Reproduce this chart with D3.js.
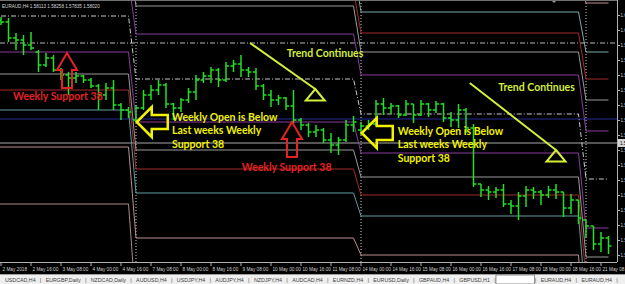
<!DOCTYPE html>
<html>
<head>
<meta charset="utf-8">
<script src="https://cdn.jsdelivr.net/npm/d3@7"></script>
<style>
  html, body { margin: 0; padding: 0; background: #000; overflow: hidden; }
  svg { display: block; }
</style>
</head>
<body>
<svg id="chart" width="625" height="284"></svg>
<script>
// EURAUD H4 bars from 2 May 2018 00:00, one value per 4h bar
const barOpen = [1.6040,1.6036,1.6004,1.6000,1.5990,1.5976,1.5950,1.5964,1.5940,1.5930,1.5924,1.5928,1.5920,1.5908,1.5890,1.5904,1.5870,1.5860,
  1.5840,1.5864,1.5890,1.5900,1.5910,1.5872,1.5864,1.5880,1.5896,1.5920,1.5928,1.5940,1.5920,1.5948,1.5952,1.5940,1.5936,1.5908,1.5890,1.5880,1.5884,1.5868,1.5840,1.5830,1.5816,1.5820,1.5800,1.5790,1.5800,1.5830,
  1.5820,1.5828,1.5832,1.5872,1.5864,1.5868,1.5850,1.5872,1.5850,1.5872,1.5860,1.5872,1.5844,1.5840,1.5860,1.5824,1.5712,1.5700,1.5696,1.5700,1.5672,1.5668,1.5688,1.5700,1.5696,1.5690,1.5700,1.5696,1.5664,1.5680,
  1.5640,1.5628,1.5592,1.5604];
const barHigh = [1.6046,1.6044,1.6014,1.6010,1.6016,1.5980,1.5974,1.5970,1.5944,1.5936,1.5936,1.5930,1.5924,1.5912,1.5914,1.5920,1.5874,1.5866,
  1.5870,1.5900,1.5910,1.5920,1.5914,1.5874,1.5884,1.5904,1.5930,1.5936,1.5946,1.5944,1.5956,1.5960,1.5970,1.5946,1.5944,1.5912,1.5900,1.5890,1.5886,1.5900,1.5844,1.5834,1.5830,1.5824,1.5814,1.5806,1.5840,1.5848,
  1.5836,1.5840,1.5880,1.5884,1.5874,1.5870,1.5880,1.5872,1.5880,1.5874,1.5878,1.5874,1.5856,1.5872,1.5864,1.5832,1.5712,1.5708,1.5706,1.5712,1.5680,1.5696,1.5708,1.5706,1.5700,1.5708,1.5712,1.5696,1.5692,1.5680,
  1.5640,1.5628,1.5616,1.5608];
const barLow = [1.6030,1.5996,1.5980,1.5970,1.5980,1.5936,1.5946,1.5936,1.5920,1.5890,1.5914,1.5914,1.5904,1.5860,1.5880,1.5860,1.5840,1.5844,
  1.5836,1.5860,1.5880,1.5890,1.5864,1.5840,1.5856,1.5874,1.5880,1.5914,1.5914,1.5906,1.5916,1.5936,1.5926,1.5926,1.5900,1.5880,1.5866,1.5870,1.5860,1.5834,1.5820,1.5806,1.5806,1.5794,1.5774,1.5770,1.5796,1.5816,
  1.5810,1.5820,1.5828,1.5850,1.5852,1.5844,1.5848,1.5834,1.5848,1.5846,1.5854,1.5836,1.5826,1.5824,1.5814,1.5706,1.5686,1.5680,1.5684,1.5666,1.5652,1.5640,1.5666,1.5682,1.5670,1.5684,1.5682,1.5646,1.5652,1.5632,
  1.5604,1.5580,1.5576,1.5572];
const barClose = [1.6036,1.6004,1.6000,1.5990,1.5984,1.5950,1.5964,1.5940,1.5930,1.5924,1.5928,1.5920,1.5908,1.5890,1.5904,1.5870,1.5860,1.5856,
  1.5864,1.5890,1.5900,1.5910,1.5872,1.5864,1.5880,1.5896,1.5920,1.5928,1.5940,1.5920,1.5948,1.5952,1.5940,1.5936,1.5908,1.5890,1.5880,1.5884,1.5868,1.5840,1.5830,1.5816,1.5820,1.5800,1.5790,1.5800,1.5830,1.5836,
  1.5828,1.5832,1.5872,1.5864,1.5868,1.5850,1.5872,1.5850,1.5872,1.5860,1.5872,1.5844,1.5840,1.5860,1.5824,1.5712,1.5700,1.5696,1.5700,1.5672,1.5668,1.5688,1.5700,1.5696,1.5690,1.5700,1.5696,1.5664,1.5680,1.5644,
  1.5628,1.5592,1.5604,1.5588];

// time axis, one label every 4 bars
const timeLabels = ["2 May 2018","2 May 16:00","3 May 08:00","4 May 00:00","4 May 16:00","7 May 08:00","8 May 00:00",
  "8 May 16:00","9 May 08:00","10 May 00:00","10 May 16:00","11 May 08:00","14 May 00:00","14 May 16:00","15 May 08:00",
  "16 May 00:00","16 May 16:00","17 May 08:00","18 May 00:00","18 May 16:00","21 May 08:00"];
const priceTicks = [1.6050,1.6020,1.5990,1.5960,1.5930,1.5900,1.5870,1.5840,1.5810,1.5780,1.5750,1.5720,1.5690,1.5660,1.5630,1.5600,1.5570];

// weekly fibo pivot levels (weeks of 30 Apr, 7 May, 14 May, 21 May)
const weekStart = [-12, 18, 48, 78];
const weekEnd = [17, 47, 77, 81];
const pivotP = [1.6048, 1.5922, 1.5852, 1.5722];
const r38 = [1.6120, 1.6012, 1.5930, 1.5818];
const s38 = [1.5976, 1.5836, 1.5774, 1.5624];
const r61 = [1.6164, 1.6068, 1.5976, 1.5880];
const s61 = [1.5932, 1.5780, 1.5726, 1.5566];
const r78 = [1.6196, 1.6100, 1.6014, 1.5922];
const s78 = [1.5900, 1.5742, 1.5690, 1.5524];
const r100 = [1.6236, 1.6148, 1.6056, 1.5976];
const s100 = [1.5860, 1.5694, 1.5648, 1.5470];
const r138 = [1.6308, 1.6234, 1.6134, 1.6074];
const s138 = [1.5786, 1.5604, 1.5570, 1.5372];
const s200 = [1.5672, 1.5470, 1.5444, 1.5218];

// levels across the whole chart
const monthlyOpen = 1.5994;
const monthlyLevel = 1.5842;
const hLinePrice = 1.5794;

// drawn objects: [bar index, price]
const upArrows = [[8.8, 1.5974], [38.8, 1.5836]];
const leftArrows = [[18.1, 1.5836], [48.1, 1.5814]];
const supportTexts = [[1.6, 1.5880], [32.1, 1.5738]];
const openTexts = [[22.8, 1.5838], [52.9, 1.5810]];
const trendLines = [[[33.2, 1.5994], [41.9, 1.5902]], [[62.5, 1.5914], [74.0, 1.5780]]];
const trendTexts = [[38.1, 1.5966], [66.3, 1.5898]];

const tabs = ["USDCAD,H4","EURGBP,Daily","NZDCAD,Daily","AUDUSD,H4","USDJPY,H4","AUDJPY,H4","NZDJPY,H4",
  "AUDCAD,H4","EURNZD,H4","EURUSD,Daily","GBPAUD,H4","GBPUSD,H1","EURAUD,H4","EURAUD,H4","EURAUD,H4"];
const activeTab = 12;

const svg = d3.select('#chart');
const plot = { right: 617, bottom: 262 };

const x = d3.scaleLinear().domain([0, 82]).range([1, 616]);
const y = d3.scaleLinear().domain([1.5556, 1.6080]).range([plot.bottom, 0]);

svg.append('rect').attr('width', 625).attr('height', 284).attr('fill', '#000');

svg.append('defs').append('clipPath').attr('id', 'clip')
  .append('rect').attr('width', plot.right).attr('height', plot.bottom);

const g = svg.append('g').attr('clip-path', 'url(#clip)');

// week separators
g.selectAll('.sep')
  .data(weekStart.slice(1))
  .enter().append('line')
  .attr('x1', d => x(d)).attr('x2', d => x(d))
  .attr('y1', 0).attr('y2', plot.bottom)
  .attr('stroke', '#cfcfcf').attr('stroke-width', 1)
  .attr('stroke-dasharray', '1,2');

// full width levels
const fullLines = [
  { v: monthlyOpen, color: '#b8b8b8', dash: '5,2,1,2' },
  { v: monthlyLevel, color: '#2a2a9c', dash: null },
  { v: hLinePrice, color: '#a8a8a8', dash: null }
];
g.selectAll('.full')
  .data(fullLines)
  .enter().append('line')
  .attr('x1', 0).attr('x2', plot.right)
  .attr('y1', d => y(d.v)).attr('y2', d => y(d.v))
  .attr('stroke', d => d.color).attr('stroke-width', 1)
  .attr('stroke-dasharray', d => d.dash);

// weekly levels, joined at each new week
const levelSeries = [
  { vals: r138, color: '#bc8f8f' }, { vals: s138, color: '#bc8f8f' },
  { vals: s200, color: '#a88888' },
  { vals: r100, color: '#7fa9aa' }, { vals: s100, color: '#5f9ea0' },
  { vals: r78, color: '#a52a2a' }, { vals: s78, color: '#a52a2a' },
  { vals: r61, color: '#9a9a9a' }, { vals: s61, color: '#9a9a9a' },
  { vals: r38, color: '#8a3d9e' }, { vals: s38, color: '#8a3d9e' },
  { vals: pivotP, color: '#c8c8c8', dash: '5,2,1,2' }
];

const levelLine = d3.line().x(d => x(d[0])).y(d => y(d[1]));

g.selectAll('.level')
  .data(levelSeries)
  .enter().append('path')
  .attr('d', s => levelLine(s.vals.flatMap((v, k) => [[weekStart[k], v], [weekEnd[k], v]])))
  .attr('fill', 'none')
  .attr('stroke', s => s.color)
  .attr('stroke-width', 1)
  .attr('stroke-dasharray', s => s.dash || null);

// OHLC bars
const bars = g.selectAll('.bar')
  .data(barOpen.map((o, i) => ({ i, o, h: barHigh[i], l: barLow[i], c: barClose[i] })))
  .enter().append('g')
  .attr('stroke', '#22e022')
  .attr('stroke-width', 1.5);

bars.append('line')
  .attr('x1', d => x(d.i)).attr('x2', d => x(d.i))
  .attr('y1', d => y(d.h)).attr('y2', d => y(d.l));
bars.append('line')
  .attr('x1', d => x(d.i) - 3).attr('x2', d => x(d.i))
  .attr('y1', d => y(d.o)).attr('y2', d => y(d.o));
bars.append('line')
  .attr('x1', d => x(d.i)).attr('x2', d => x(d.i) + 3)
  .attr('y1', d => y(d.c)).attr('y2', d => y(d.c));

// annotations
const red = '#e52222', yellow = '#f2f200', lime = '#d4ee3a';
const labelFont = 'Lato, "Open Sans", sans-serif';

g.selectAll('.uparrow')
  .data(upArrows)
  .enter().append('path')
  .attr('d', d => {
    const tx = x(d[0]), ty = y(d[1]);
    return `M${tx},${ty}L${tx + 10},${ty + 17}L${tx + 5},${ty + 17}L${tx + 5},${ty + 35}` +
      `L${tx - 5},${ty + 35}L${tx - 5},${ty + 17}L${tx - 10},${ty + 17}Z`;
  })
  .attr('fill', 'none').attr('stroke', red).attr('stroke-width', 2);

g.selectAll('.leftarrow')
  .data(leftArrows)
  .enter().append('path')
  .attr('d', d => {
    const tx = x(d[0]), ty = y(d[1]);
    return `M${tx},${ty}L${tx + 15},${ty - 15}L${tx + 15},${ty - 7}L${tx + 31},${ty - 7}` +
      `L${tx + 31},${ty + 7}L${tx + 15},${ty + 7}L${tx + 15},${ty + 15}Z`;
  })
  .attr('fill', 'none').attr('stroke', yellow).attr('stroke-width', 2.5);

g.selectAll('.suptext')
  .data(supportTexts)
  .enter().append('text')
  .attr('x', d => x(d[0])).attr('y', d => y(d[1]))
  .attr('fill', red)
  .style('font', `bold 10.5px ${labelFont}`)
  .text('Weekly Support 38');

const openBlock = g.selectAll('.opentext')
  .data(openTexts)
  .enter().append('text')
  .attr('fill', yellow)
  .style('font', `bold 10.5px ${labelFont}`);
['Weekly Open is Below', 'Last weeks Weekly', 'Support 38'].forEach((line, k) => {
  openBlock.append('tspan')
    .attr('x', d => x(d[0]))
    .attr('y', d => y(d[1]) + k * 13.3)
    .text(line);
});

g.selectAll('.trendline')
  .data(trendLines)
  .enter().append('path')
  .attr('d', d => {
    const x0 = x(d[0][0]), y0 = y(d[0][1]), x1 = x(d[1][0]), y1 = y(d[1][1]);
    return `M${x0},${y0}L${x1},${y1}M${x1},${y1}L${x1 + 9.5},${y1 + 11.5}L${x1 - 9.5},${y1 + 11.5}Z`;
  })
  .attr('fill', 'none').attr('stroke', lime).attr('stroke-width', 2);

g.selectAll('.trendtext')
  .data(trendTexts)
  .enter().append('text')
  .attr('x', d => x(d[0])).attr('y', d => y(d[1]))
  .attr('fill', lime)
  .style('font', `bold 10.5px ${labelFont}`)
  .text('Trend Continues');

// header
svg.append('text')
  .attr('x', 2).attr('y', 7.5)
  .attr('fill', '#d8d8d8')
  .style('font', '4.6px "Liberation Sans", Arial, sans-serif')
  .text('EURAUD,H4  1.58113 1.58258 1.57835 1.58020');

// chart shift marker
svg.append('path').attr('d', 'M551,0L557,0L554,3Z').attr('fill', '#9a9a9a');

// frame
svg.append('line').attr('x1', 0).attr('x2', plot.right).attr('y1', 0.5).attr('y2', 0.5)
  .attr('stroke', '#707070');
svg.append('line').attr('x1', plot.right + 0.5).attr('x2', plot.right + 0.5).attr('y1', 0).attr('y2', plot.bottom)
  .attr('stroke', '#b0b0b0');
svg.append('line').attr('x1', 0).attr('x2', plot.right).attr('y1', plot.bottom + 0.5).attr('y2', plot.bottom + 0.5)
  .attr('stroke', '#b0b0b0');

// price axis
const pAxis = svg.append('g').style('font', '4.6px "Liberation Sans", Arial, sans-serif');
pAxis.selectAll('line')
  .data(priceTicks)
  .enter().append('line')
  .attr('x1', plot.right).attr('x2', plot.right + 3)
  .attr('y1', d => Math.round(y(d)) + 0.5).attr('y2', d => Math.round(y(d)) + 0.5)
  .attr('stroke', '#b0b0b0');
pAxis.selectAll('text')
  .data(priceTicks)
  .enter().append('text')
  .attr('x', plot.right + 3.5).attr('y', d => y(d) + 1.8)
  .attr('fill', '#d0d0d0')
  .text(d => d.toFixed(5));

// price label of the horizontal line
svg.append('rect')
  .attr('x', plot.right + 1).attr('y', y(hLinePrice) - 4).attr('width', 10).attr('height', 8)
  .attr('fill', '#d4d4d4');
svg.append('text')
  .attr('x', plot.right + 3).attr('y', y(hLinePrice) + 2)
  .attr('fill', '#000')
  .style('font', '4.6px "Liberation Sans", Arial, sans-serif')
  .text(hLinePrice.toFixed(5));

// time axis
const tAxis = svg.append('g').style('font', '4.7px "Liberation Sans", Arial, sans-serif');
tAxis.selectAll('line')
  .data(timeLabels)
  .enter().append('line')
  .attr('x1', (d, k) => x(k * 4)).attr('x2', (d, k) => x(k * 4))
  .attr('y1', plot.bottom).attr('y2', plot.bottom + 4)
  .attr('stroke', '#b0b0b0');
tAxis.selectAll('text')
  .data(timeLabels)
  .enter().append('text')
  .attr('x', (d, k) => x(k * 4) + 1.5).attr('y', 270.5)
  .attr('fill', '#d0d0d0')
  .text(d => d);

// symbol tabs
const tabBar = svg.append('g');
tabBar.append('rect').attr('x', 0).attr('y', 274).attr('width', 625).attr('height', 10).attr('fill', '#efefef');
tabBar.append('line').attr('x1', 0).attr('x2', 625).attr('y1', 274.5).attr('y2', 274.5).attr('stroke', '#a0a0a0');

const tabTexts = tabBar.selectAll('.tab')
  .data(tabs)
  .enter().append('text')
  .attr('y', 281.5)
  .attr('fill', '#404040')
  .style('font', '5.3px "Liberation Sans", Arial, sans-serif')
  .text(d => d);

const widths = tabTexts.nodes().map(n => n.getComputedTextLength());
const gap = (612 - 5 - d3.sum(widths)) / (tabs.length - 1);
let cx = 5;
const tabX = widths.map(w => { const p = cx; cx += w + gap; return p; });
tabTexts.attr('x', (d, k) => tabX[k]);

tabBar.insert('rect', '.tab')
  .attr('x', tabX[activeTab] - 4).attr('y', 275)
  .attr('width', widths[activeTab] + 8).attr('height', 9)
  .attr('fill', '#fff').attr('stroke', '#7a7a7a').attr('stroke-width', 0.8);
tabTexts.filter((d, k) => k === activeTab).attr('fill', '#000').style('font-weight', 'bold');

tabBar.selectAll('.sepbar')
  .data(tabX)
  .enter().append('text')
  .attr('x', (d, k) => d + widths[k] + gap / 2 - 0.8).attr('y', 281.5)
  .attr('fill', '#606060')
  .style('font', '6px "Liberation Sans", Arial, sans-serif')
  .text('|');
</script>
</body>
</html>
